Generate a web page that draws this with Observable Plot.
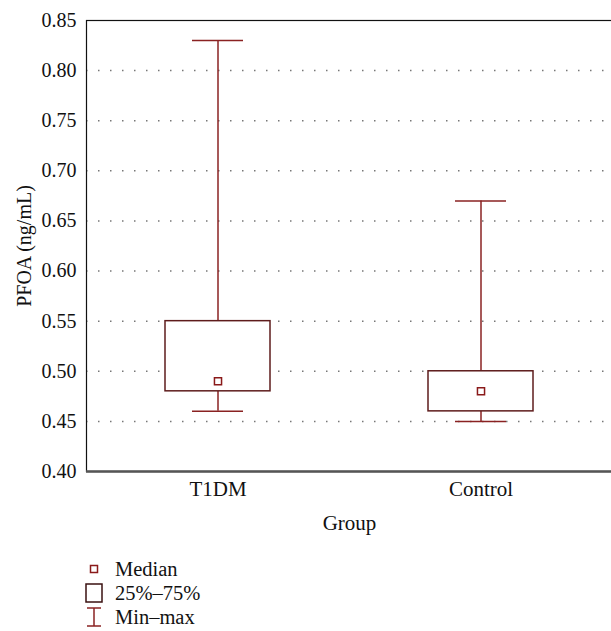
<!DOCTYPE html>
<html>
<head>
<meta charset="utf-8">
<script src="https://cdn.jsdelivr.net/npm/d3@7"></script>
<script src="https://cdn.jsdelivr.net/npm/@observablehq/plot@0.6"></script>
<style>
  body { margin: 0; background: #fff; }
  #wrap { position: relative; width: 611px; height: 631px; }
  #legend { position: absolute; left: 84px; top: 557px; font-size: 20.5px; color: #111; font-family: "Liberation Serif" !important; }
  .row { display: flex; align-items: center; height: 24px; }
  .row svg { width: 20px; height: 22px; margin-right: 11px; }
  #chart svg text { font-family: "Liberation Serif" !important; }
</style>
</head>
<body>
<div id="wrap"><div id="chart"></div><div id="legend"></div></div>
<script>
const groups = ["T1DM", "Control"];
const mins = [0.46, 0.45];
const q1s = [0.48, 0.46];
const medians = [0.49, 0.48];
const q3s = [0.55, 0.50];
const maxs = [0.83, 0.67];
const yTicks = [0.40, 0.45, 0.50, 0.55, 0.60, 0.65, 0.70, 0.75, 0.80, 0.85];
const gridTicks = [0.45, 0.50, 0.55, 0.60, 0.65, 0.70, 0.75, 0.80];

const data = groups.map((g, i) => ({group: g, min: mins[i], q1: q1s[i], median: medians[i], q3: q3s[i], max: maxs[i]}));

const boxColor = "#5e1c1c";
const whiskerColor = "#8a2222";

const chart = Plot.plot({
  width: 611,
  height: 548,
  marginTop: 20,
  marginLeft: 86,
  marginRight: -1,
  marginBottom: 77,
  style: {fontSize: "20px", color: "#111", background: "white"},
  x: {domain: groups, paddingInner: 0.6, paddingOuter: 0.3, label: null},
  y: {domain: [0.40, 0.85], label: null},
  marks: [
    Plot.ruleY(gridTicks, {stroke: "#777", strokeDasharray: "1.5,10.5", strokeWidth: 1.5}),
    Plot.frame({stroke: "#111", strokeWidth: 1.2}),
    Plot.ruleX(data, {x: "group", y1: "q3", y2: "max", stroke: whiskerColor, strokeWidth: 1.5}),
    Plot.ruleX(data, {x: "group", y1: "min", y2: "q1", stroke: whiskerColor, strokeWidth: 1.5}),
    Plot.tickY(data, {x: "group", y: "max", stroke: whiskerColor, strokeWidth: 1.5, insetLeft: 27, insetRight: 27}),
    Plot.tickY(data, {x: "group", y: "min", stroke: whiskerColor, strokeWidth: 1.5, insetLeft: 27, insetRight: 27}),
    Plot.barY(data, {x: "group", y1: "q1", y2: "q3", fill: "white", stroke: boxColor, strokeWidth: 1.5}),
    Plot.dot(data, {x: "group", y: "median", symbol: "square", r: 4, stroke: "#8a1a1a", fill: "white", strokeWidth: 1.5}),
    Plot.ruleY([0.40], {stroke: "#555", strokeWidth: 2.5}),
    Plot.axisY({ticks: yTicks, tickFormat: d3.format(".2f"), tickSize: 0, tickPadding: 10, label: "PFOA (ng/mL)", labelArrow: "none", labelAnchor: "center", labelOffset: 70, fontSize: 20}),
    Plot.axisX({tickSize: 0, tickPadding: 10, label: "Group", labelArrow: "none", labelAnchor: "center", labelOffset: 58, fontSize: 21})
  ]
});
document.getElementById("chart").appendChild(chart);

const legend = document.getElementById("legend");
legend.innerHTML = `
<div class="row"><svg viewBox="0 0 20 22"><rect x="6.5" y="7.5" width="7" height="7" fill="white" stroke="#8a1a1a" stroke-width="1.5"/></svg><span>Median</span></div>
<div class="row"><svg viewBox="0 0 20 22"><rect x="2" y="2" width="16" height="18" fill="white" stroke="#3a1010" stroke-width="1.5"/></svg><span>25%–75%</span></div>
<div class="row"><svg viewBox="0 0 20 22"><line x1="3" y1="2" x2="17" y2="2" stroke="#8a2222" stroke-width="1.5"/><line x1="10" y1="2" x2="10" y2="20" stroke="#8a2222" stroke-width="1.5"/><line x1="3" y1="20" x2="17" y2="20" stroke="#8a2222" stroke-width="1.5"/></svg><span>Min–max</span></div>`;
</script>
</body>
</html>
